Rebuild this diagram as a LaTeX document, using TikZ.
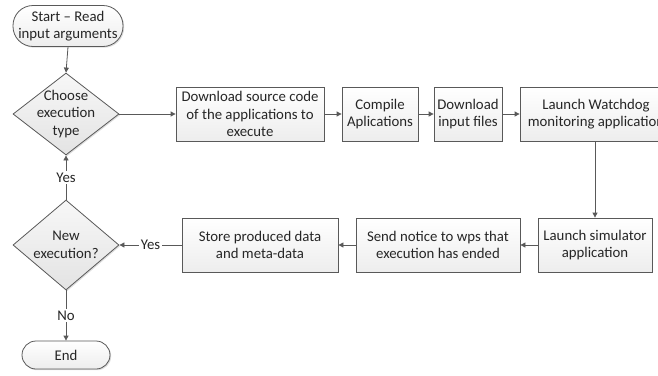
\documentclass[tikz,border=0pt]{standalone}
\usepackage{fontspec}
\setmainfont{Carlito}
\usetikzlibrary{shapes.geometric,arrows.meta,shadows}
\definecolor{ln}{HTML}{595959}
\definecolor{tx}{HTML}{262626}
\begin{document}
\begin{tikzpicture}[x=1pt,y=-1pt,
  font=\fontsize{14.8pt}{17.5pt}\selectfont, text=tx,
  base/.style={draw=ln, line width=0.8pt, top color=white, bottom color=gray!14,
    drop shadow={shadow xshift=1.2pt, shadow yshift=-1.2pt, fill=gray!45, opacity=0.6}},
  box/.style={base, rectangle, align=center, inner sep=0pt},
  term/.style={base, rectangle, align=center, inner sep=0pt},
  dia/.style={base, diamond, inner sep=0pt, top color=gray!6, bottom color=gray!22},
  arr/.style={draw=ln, line width=0.8pt, -{Triangle[length=5pt,width=5pt]}},
  lab/.style={fill=white, inner sep=1.5pt, text=tx}]
\useasboundingbox (0,0) rectangle (658,375);
\clip (0,0) rectangle (658,375);
% terminals
\node[term, minimum width=110pt, minimum height=41pt, rounded corners=20pt] (start) at (68,26) {Start -- Read\\input arguments};
\node[term, minimum width=88pt, minimum height=28pt, rounded corners=14pt] (end) at (66,355) {End};
% diamonds
\node[dia, minimum width=106pt, minimum height=82pt] (d1) at (66,114) {};
\node[align=center] (d1t) at (66,114) {Choose\\execution\\type};
\node[dia, minimum width=106pt, minimum height=90pt] (d2) at (66,245) {};
\node[align=center] (d2t) at (66,245) {New\\execution?};
% top row
\node[box, minimum width=148pt, minimum height=54pt] (dl) at (250,114) {Download source code\\of the applications to\\execute};
\node[box, minimum width=76pt, minimum height=54pt] (comp) at (380,114) {Compile\\Aplications};
\node[box, minimum width=68pt, minimum height=54pt] (dinp) at (468,114) {Download\\input files};
\node[box, minimum width=152pt, minimum height=54pt] (watch) at (596,114) {Launch Watchdog\\monitoring application};
% bottom row
\node[box, minimum width=114pt, minimum height=54pt] (sim) at (595,245) {Launch simulator\\application};
\node[box, minimum width=164pt, minimum height=54pt] (send) at (438,245) {Send notice to wps that\\execution has ended};
\node[box, minimum width=156pt, minimum height=54pt] (store) at (260,245) {Store produced data\\and meta-data};
% connectors
\draw[arr] (start.south) -- (d1.north);
\draw[arr] (d1.east) -- (dl.west);
\draw[arr] (dl.east) -- (comp.west);
\draw[arr] (comp.east) -- (dinp.west);
\draw[arr] (dinp.east) -- (watch.west);
\draw[arr] (watch.south -| sim.north) -- (sim.north);
\draw[arr] (sim.west) -- (send.east);
\draw[arr] (send.west) -- (store.east);
\draw[arr] (store.west) -- node[lab] (y2) {Yes} (d2.east);
\draw[arr] (d2.north) -- node[lab] (y1) {Yes} (d1.south);
\draw[arr] (d2.south) -- node[lab] (n1) {No} (end.north);
\end{tikzpicture}
\end{document}
